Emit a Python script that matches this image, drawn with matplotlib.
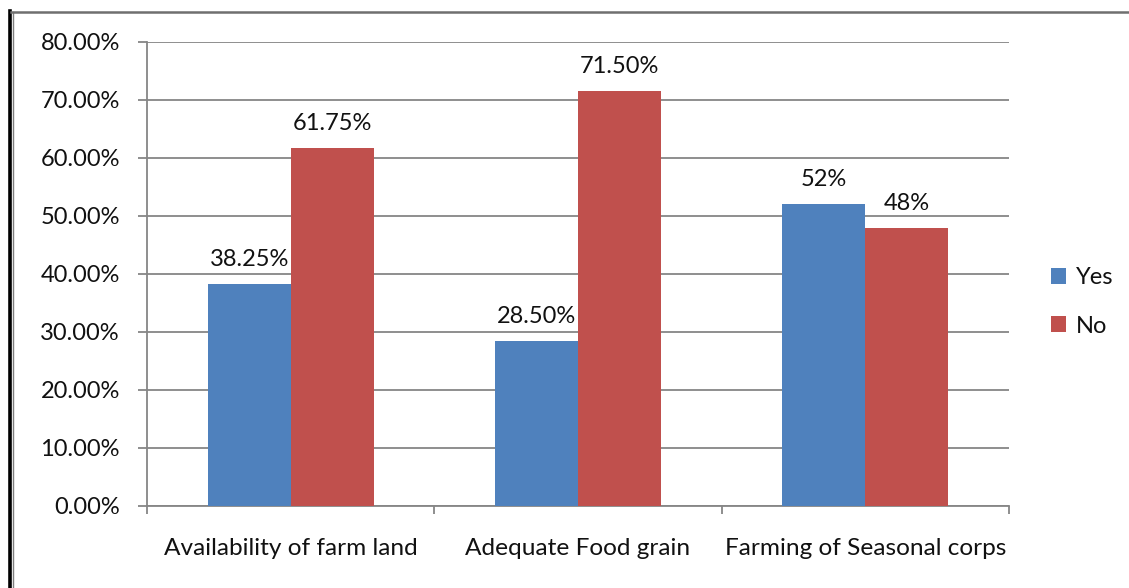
import matplotlib
matplotlib.use("Agg")
import matplotlib.pyplot as plt
from matplotlib.lines import Line2D
from matplotlib.ticker import FuncFormatter, MultipleLocator
import numpy as np

categories = ["Availability of farm land", "Adequate Food grain", "Farming of Seasonal corps"]
yes_values = [38.25, 28.50, 52.0]
no_values = [61.75, 71.50, 48.0]
yes_labels = ["38.25%", "28.50%", "52%"]
no_labels = ["61.75%", "71.50%", "48%"]

BLUE = "#4F81BD"
RED = "#C0504D"
GRID = "#868686"
TXT = "#111111"
FS = 17

plt.rcParams["font.family"] = ["Lato", "DejaVu Sans"]

W, H = 1129, 588
fig = plt.figure(figsize=(W / 100, H / 100), dpi=100)
ax = fig.add_axes([147 / W, 82 / H, 862 / W, 464 / H])

x = np.arange(len(categories))
bw = 0.289
ax.bar(x - bw / 2, yes_values, bw, color=BLUE, label="Yes", zorder=3)
ax.bar(x + bw / 2, no_values, bw, color=RED, label="No", zorder=3)

for xi, v, t in zip(x - bw / 2, yes_values, yes_labels):
    ax.annotate(t, (xi, v), xytext=(0, 14), textcoords="offset pixels",
                ha="center", va="bottom", fontsize=FS, color=TXT)
for xi, v, t in zip(x + bw / 2, no_values, no_labels):
    ax.annotate(t, (xi, v), xytext=(0, 14), textcoords="offset pixels",
                ha="center", va="bottom", fontsize=FS, color=TXT)

ax.set_xlim(-0.5, len(categories) - 0.5)
ax.set_ylim(0, 80)
ax.yaxis.set_major_locator(MultipleLocator(10))
ax.yaxis.set_major_formatter(FuncFormatter(lambda v, p: f"{v:.2f}%"))
ax.grid(axis="y", color=GRID, linewidth=1.3, zorder=0)

# category labels sit between boundary ticks
ax.set_xticks(x)
ax.set_xticklabels(categories)
ax.tick_params(axis="x", length=0, pad=23, labelsize=17.6, labelcolor=TXT)
ax.set_xticks(np.arange(-0.5, len(categories)), minor=True)
ax.tick_params(axis="x", which="minor", length=6, width=1.3, color=GRID)
ax.tick_params(axis="y", length=6.5, width=1.3, color=GRID, pad=13,
               labelsize=FS, labelcolor=TXT)

for s in ["top", "right"]:
    ax.spines[s].set_visible(False)
for s in ["left", "bottom"]:
    ax.spines[s].set_color(GRID)
    ax.spines[s].set_linewidth(1.3)

leg = fig.legend(*ax.get_legend_handles_labels(), loc="center left",
                 bbox_to_anchor=(1051 / W, (H - 302) / H),
                 bbox_transform=fig.transFigure, frameon=False,
                 fontsize=FS, handlelength=0.65, handleheight=0.65,
                 handletextpad=0.4, labelspacing=1.15, borderaxespad=0,
                 borderpad=0)
for t in leg.get_texts():
    t.set_color(TXT)

# outer frame
fig.add_artist(Line2D([9.5 / W, 9.5 / W], [0, (H - 11) / H], color="black", linewidth=2.6))
fig.add_artist(Line2D([12.5 / W, 12.5 / W], [0, (H - 12) / H], color="#7f7f7f", linewidth=1.0))
fig.add_artist(Line2D([11 / W, 1], [(H - 12) / H, (H - 12) / H], color="#6f6f6f", linewidth=1.8))

fig.savefig("out.png", dpi=100)
